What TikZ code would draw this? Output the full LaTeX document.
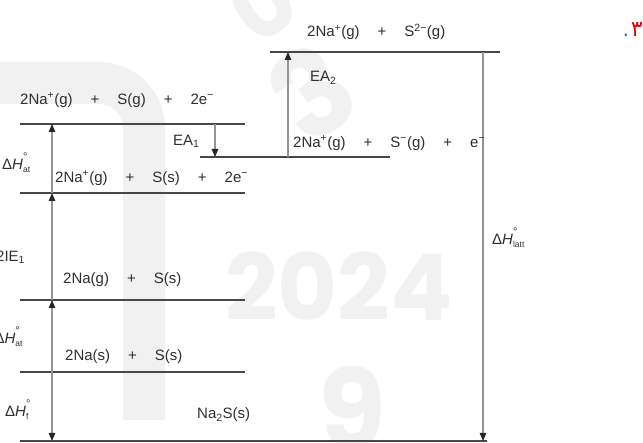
\documentclass[tikz,border=0pt]{standalone}
\usepackage{fontspec}
\setmainfont{Liberation Sans}
\newfontfamily\arabicfont[Script=Arabic]{DejaVu Sans}
\newfontfamily\wmfont{Poppins}
\TeXXeTstate=1
\usetikzlibrary{arrows.meta}
\newcommand\pl{\hspace{1.2em}+\hspace{1.2em}}
\newcommand\sps[1]{\textsuperscript{#1}}
\newcommand\sbs[1]{\textsubscript{#1}}
\newcommand\dHlab[1]{Δ\textit{H}\rlap{\raisebox{1.05ex}{\fontsize{11}{11}\selectfont °}}\raisebox{-0.45ex}{\fontsize{8.5}{9}\selectfont #1}}
\definecolor{wmc}{gray}{0.945}
\begin{document}
\begin{tikzpicture}[x=1pt,y=-1pt,
  lvl/.style={draw=black!72, line width=1.3pt},
  arr/.style={draw=black!42, line width=1.2pt, -{Triangle[width=6.5pt,length=8pt,color=black!85]}},
  lab/.style={inner sep=0pt, anchor=west, font=\fontsize{15}{18}\selectfont, text=black!82},
  slab/.style={inner sep=0pt, anchor=west, font=\fontsize{15}{18}\selectfont, text=black!82},
  wm/.style={inner sep=0pt, text=wmc, font=\wmfont\bfseries}]
\useasboundingbox (0,0) rectangle (643,443);
% watermark
\draw[wmc, line width=42pt, rounded corners=45pt] (-30,83) -- (144,83) -- (144,420);
\node[wm, font=\wmfont\bfseries\fontsize{92}{92}\selectfont] (wm1) at (339,286) {2024};
\node[wm, font=\wmfont\bfseries\fontsize{110}{110}\selectfont] (wm2) at (352,408) {9};
\node[wm, font=\wmfont\bfseries\fontsize{120}{120}\selectfont, rotate=35] (wm3) at (312,92) {3};
\node[wm, font=\wmfont\bfseries\fontsize{90}{90}\selectfont, rotate=35] (wm4) at (262,4) {0};
% level coordinates
\coordinate (T1) at (270,52);  \coordinate (T2) at (500,52);
\coordinate (A1) at (20,124);  \coordinate (A2) at (245,124);
\coordinate (B1) at (200,157); \coordinate (B2) at (390,157);
\coordinate (C1) at (20,193);  \coordinate (C2) at (245,193);
\coordinate (D1) at (20,300);  \coordinate (D2) at (245,300);
\coordinate (E1) at (20,372);  \coordinate (E2) at (245,372);
\coordinate (F1) at (20,441);  \coordinate (F2) at (487,441);
\draw[lvl] (T1) -- (T2);
\draw[lvl] (A1) -- (A2);
\draw[lvl] (B1) -- (B2);
\draw[lvl] (C1) -- (C2);
\draw[lvl] (D1) -- (D2);
\draw[lvl] (E1) -- (E2);
\draw[lvl] (F1) -- (F2);
% arrow end points
\coordinate (xa) at (52,124); \coordinate (xc) at (52,193);
\coordinate (xd) at (52,300); \coordinate (xe) at (52,372);
\coordinate (xf) at (52,441);
\coordinate (ea1s) at (215,124); \coordinate (ea1e) at (215,157);
\coordinate (ea2s) at (288,157); \coordinate (ea2e) at (288,52);
\coordinate (lts) at (483,52); \coordinate (lte) at (483,441);
\draw[arr] (xc) -- (xa);
\draw[arr] (xd) -- (xc);
\draw[arr] (xe) -- (xd);
\draw[arr] (xe) -- (xf);
\draw[arr] (ea1s) -- (ea1e);
\draw[arr] (ea2s) -- (ea2e);
\draw[arr] (lts) -- (lte);
% species labels
\node[lab] (s1) at (307,32) {2Na\sps{+}(g)\pl S\sps{2−}(g)};
\node[lab] (s2) at (20,100) {2Na\sps{+}(g)\pl S(g)\pl 2e\sps{−}};
\node[lab] (s3) at (293,143) {2Na\sps{+}(g)\pl S\sps{−}(g)\pl e\sps{−}};
\node[lab] (s4) at (55,178) {2Na\sps{+}(g)\pl S(s)\pl 2e\sps{−}};
\node[lab] (s5) at (63,280) {2Na(g)\pl S(s)};
\node[lab] (s6) at (65,357) {2Na(s)\pl S(s)};
\node[lab] (s7) at (197,415) {Na\sbs{2}S(s)};
% step labels
\node[lab] (l1) at (173,141) {EA\sbs{1}};
\node[lab] (l2) at (310,78) {EA\sbs{2}};
\node[slab] (l3) at (2,163) {\dHlab{at}};
\node[lab] (l4) at (-4,257) {2IE\sbs{1}};
\node[slab] (l5) at (-14,337) {2\dHlab{at}};
\node[slab] (l6) at (5,410) {\dHlab{f}};
\node[slab] (l7) at (492,238) {\dHlab{latt}};
% question number
\node[inner sep=0pt, anchor=east, font=\fontsize{22}{24}\selectfont] (q) at (643,30) {\textcolor{black!60}{.}\hspace{2pt}\textcolor{red!90!black}{\arabicfont ٣}};
\end{tikzpicture}
\end{document}
